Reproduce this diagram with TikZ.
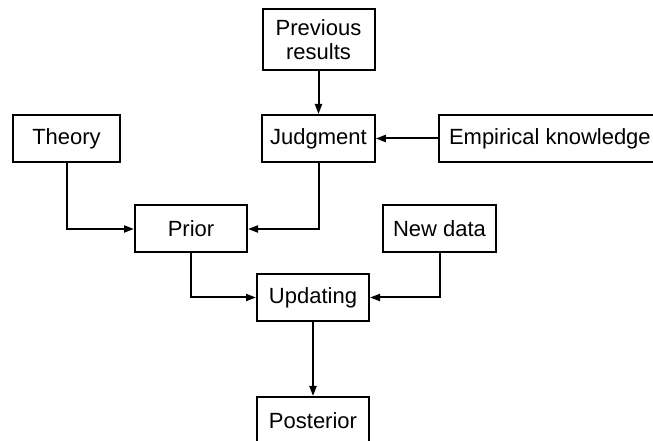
\documentclass[tikz,border=0pt]{standalone}
\usepackage{fontspec}
\setmainfont{Liberation Sans}
\usetikzlibrary{calc}
\usetikzlibrary{positioning}
\usetikzlibrary{arrows.meta}
\definecolor{flowLineStyleColor}{RGB}{0,0,0}
\tikzset{
	stage/.style = {
		draw, line width=2pt, minimum width=112pt, minimum height=47pt,
		inner xsep=8pt, font=\fontsize{22}{24}\selectfont, align=center
	},
	flowLineStyle/.style = {
		line width=2pt, draw = flowLineStyleColor,
		-{Triangle[length=10pt,width=7pt]}
	}
}
\begin{document}
\begin{tikzpicture}[x=1pt, y=1pt]
	\useasboundingbox (0,0) rectangle (653,441);

	\node [stage, minimum height=61pt] (PREV) at (318.5,401.5) {Previous\\results};
	\node [stage] (JUDG) at (318.5,302.5) {Judgment};
	\node [stage, anchor=west, inner xsep=10pt] (EMP) at (438,302.5) {Empirical knowledge\hspace*{8pt}};
	\node [stage, minimum width=107pt] (THEO) at (66.5,302.5) {Theory};
	\node [stage] (PRIOR) at (191,212) {Prior};
	\node [stage, minimum width=113pt] (NEW) at (439.5,212.5) {New data};
	\node [stage] (UPD) at (313,143.5) {Updating};
	\node [stage, below=74pt of UPD] (POST) {Posterior};

	\draw [flowLineStyle] (PREV) to (JUDG);
	\draw [flowLineStyle] (EMP) to (JUDG);
	\draw [flowLineStyle] (THEO.south) |- (PRIOR.west);
	\draw [flowLineStyle] (JUDG.south) |- (PRIOR.east);
	\draw [flowLineStyle] (PRIOR.south) |- (UPD.west);
	\draw [flowLineStyle] (NEW.south) |- (UPD.east);
	\draw [flowLineStyle] (UPD) to (POST);
\end{tikzpicture}
\end{document}
